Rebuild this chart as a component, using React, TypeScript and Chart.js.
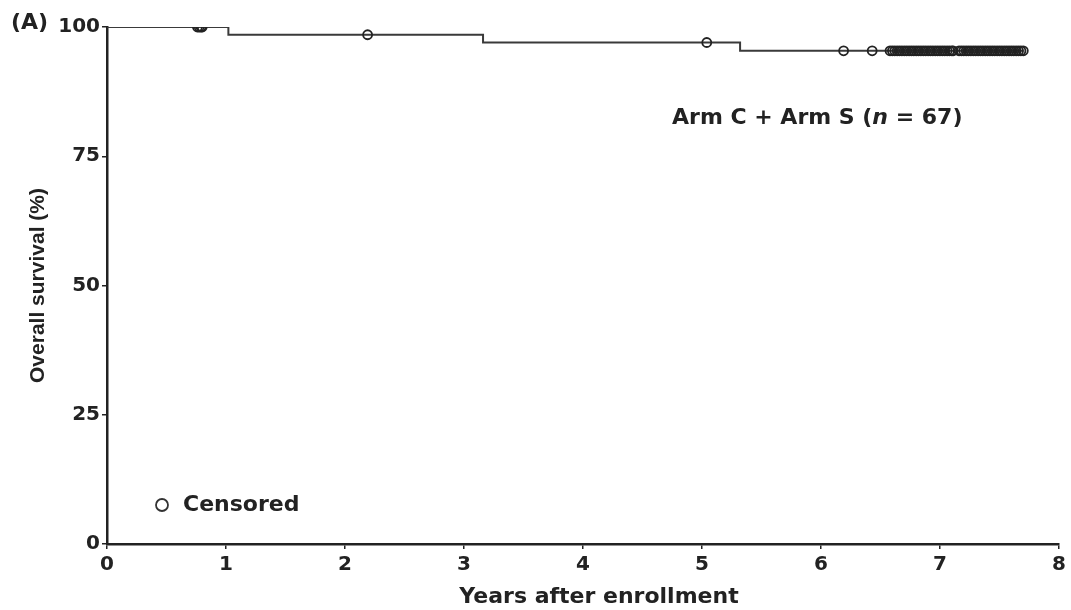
import React, { useEffect, useRef } from 'react';
import { Chart, registerables } from 'chart.js';

Chart.register(...registerables);

// Kaplan–Meier step points (years, % surviving)
const eventTimes = [0, 1.02, 3.16, 5.32, 7.7];
const survivalPct = [100, 98.5, 97.0, 95.4, 95.4];

// Censored observations (years)
const censoredTimes = [
  0.76, 0.775, 0.79, 0.8,
  2.19,
  5.04,
  6.19, 6.43,
  6.58, 6.6, 6.62, 6.64, 6.66, 6.68, 6.7, 6.72, 6.74, 6.76, 6.78, 6.8, 6.82, 6.84,
  6.86, 6.88, 6.9, 6.92, 6.94, 6.96, 6.98, 7.0, 7.02, 7.04, 7.06, 7.08, 7.1, 7.11,
  7.16, 7.18, 7.2, 7.22, 7.24, 7.26, 7.28, 7.3, 7.32, 7.34, 7.36, 7.38, 7.4, 7.42,
  7.44, 7.46, 7.48, 7.5, 7.52, 7.54, 7.56, 7.58, 7.6, 7.62, 7.64, 7.66, 7.68, 7.7,
];

const xTickValues = [0, 1, 2, 3, 4, 5, 6, 7, 8];
const yTickValues = [0, 25, 50, 75, 100];

const xTitle = 'Years after enrollment';
const yTitle = 'Overall survival (%)';
const panelLabel = '(A)';
const annotationPre = 'Arm C + Arm S (';
const annotationItalic = 'n';
const annotationPost = ' = 67)';
const legendLabel = 'Censored';

const INK = '#222222';
const BOLD_FONT = 'bold 22px "DejaVu Sans"';

function survivalAt(t: number): number {
  let v = survivalPct[0];
  for (let i = 0; i < eventTimes.length; i++) {
    if (eventTimes[i] <= t) v = survivalPct[i];
  }
  return v;
}

const textPlugin = {
  id: 'extraText',
  afterDraw(chart: any) {
    const ctx = chart.ctx as CanvasRenderingContext2D;
    ctx.save();
    ctx.fillStyle = INK;
    ctx.textBaseline = 'middle';

    // panel label
    ctx.font = BOLD_FONT;
    ctx.textAlign = 'left';
    ctx.fillText(panelLabel, 11, 23);

    // x axis title
    ctx.textAlign = 'center';
    ctx.fillText(xTitle, 599, 597);

    // annotation
    ctx.textAlign = 'left';
    let x = 672;
    const y = 118;
    ctx.font = BOLD_FONT;
    ctx.fillText(annotationPre, x, y);
    x += ctx.measureText(annotationPre).width;
    ctx.font = 'italic bold 22px "DejaVu Sans"';
    ctx.fillText(annotationItalic, x, y);
    x += ctx.measureText(annotationItalic).width;
    ctx.font = BOLD_FONT;
    ctx.fillText(annotationPost, x, y);

    // legend
    ctx.beginPath();
    ctx.arc(162, 505, 6, 0, Math.PI * 2);
    ctx.lineWidth = 1.8;
    ctx.strokeStyle = '#333333';
    ctx.stroke();
    ctx.font = BOLD_FONT;
    ctx.fillText(legendLabel, 183, 505);

    ctx.restore();
  },
};

export default function App() {
  const canvasRef = useRef<HTMLCanvasElement | null>(null);

  useEffect(() => {
    document.body.style.margin = '0';
    const canvas = canvasRef.current;
    if (!canvas) return;

    const curve = eventTimes.map((t, i) => ({ x: t, y: survivalPct[i] }));
    const censored = censoredTimes.map((t) => ({ x: t, y: survivalAt(t) }));

    const chart = new Chart(canvas, {
      type: 'scatter',
      data: {
        datasets: [
          {
            type: 'line',
            label: 'Survival',
            data: curve,
            stepped: 'before',
            borderColor: '#3a3a3a',
            borderWidth: 2,
            pointRadius: 0,
            fill: false,
            order: 2,
          },
          {
            type: 'scatter',
            label: 'Censored',
            data: censored,
            pointStyle: 'circle',
            pointRadius: 4.5,
            pointBorderWidth: 1.8,
            pointBorderColor: '#222222',
            pointBackgroundColor: 'rgba(255,255,255,0)',
            order: 1,
          },
        ],
      },
      options: {
        responsive: false,
        animation: false,
        layout: { padding: { left: 0, right: 12, top: 27, bottom: 0 } },
        plugins: {
          legend: { display: false },
          tooltip: { enabled: false },
          title: { display: false },
        },
        scales: {
          x: {
            type: 'linear',
            min: 0,
            max: 8,
            afterBuildTicks: (scale: any) => {
              scale.ticks = xTickValues.map((v) => ({ value: v }));
            },
            afterFit: (scale: any) => {
              scale.height = 66;
            },
            ticks: {
              color: INK,
              font: { family: '"DejaVu Sans"', weight: 'bold', size: 20 },
              padding: 4,
              maxRotation: 0,
              autoSkip: false,
            },
            grid: {
              display: true,
              drawOnChartArea: false,
              drawTicks: true,
              tickLength: 5,
              color: INK,
              lineWidth: 1.5,
            },
            border: { display: true, color: INK, width: 2.5 },
          },
          y: {
            type: 'linear',
            min: 0,
            max: 100,
            afterBuildTicks: (scale: any) => {
              scale.ticks = yTickValues.map((v) => ({ value: v }));
            },
            afterFit: (scale: any) => {
              scale.width = 107;
            },
            ticks: {
              color: INK,
              font: { family: '"DejaVu Sans"', weight: 'bold', size: 20 },
              padding: 2,
              autoSkip: false,
            },
            grid: {
              display: true,
              drawOnChartArea: false,
              drawTicks: true,
              tickLength: 5,
              color: INK,
              lineWidth: 1.5,
            },
            border: { display: true, color: INK, width: 2.5 },
            title: {
              display: true,
              text: yTitle,
              color: INK,
              font: { family: '"Liberation Sans"', weight: 'bold', size: 21 },
              padding: { top: 26, bottom: 0 },
            },
          },
        },
      },
      plugins: [textPlugin],
    });

    return () => {
      chart.destroy();
    };
  }, []);

  return (
    <div style={{ position: 'absolute', left: 0, top: 0, width: 1071, height: 610, background: '#ffffff' }}>
      <canvas ref={canvasRef} width={1071} height={610} style={{ display: 'block' }} />
    </div>
  );
}
